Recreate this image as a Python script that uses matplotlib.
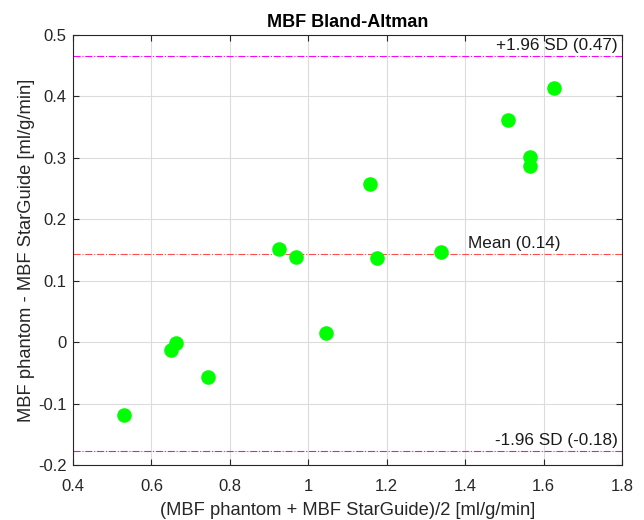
import matplotlib
matplotlib.use("Agg")
import matplotlib.pyplot as plt

plt.rcParams['font.family'] = ['Liberation Sans', 'DejaVu Sans']

mean_vals = [0.530, 0.650, 0.663, 0.744, 0.925, 0.969, 1.045, 1.158, 1.176, 1.339, 1.510, 1.566, 1.566, 1.627]
diff_vals = [-0.118, -0.013, -0.002, -0.056, 0.152, 0.138, 0.015, 0.258, 0.137, 0.147, 0.362, 0.301, 0.286, 0.414]
bias = 0.144
upper_loa = 0.466
lower_loa = -0.178
labels = ['+1.96 SD (0.47)', 'Mean (0.14)', '-1.96 SD (-0.18)']

fig = plt.figure(figsize=(6.44, 5.20), dpi=100)
ax = fig.add_axes([0.1134, 0.1058, 0.8524, 0.8269])

ax.plot(mean_vals, diff_vals, 'o', color=(0, 1, 0), markersize=10.5, markeredgewidth=0, zorder=3)
ax.axhline(upper_loa, color='magenta', linestyle='-.', linewidth=0.8)
ax.axhline(bias, color=(1, 0.3, 0.3), linestyle='-.', linewidth=0.8)
ax.axhline(lower_loa, color='magenta', linestyle='-.', linewidth=0.8)

tc = '#1a1a1a'
ax.text(1.79, upper_loa + 0.005, labels[0], ha='right', va='bottom', fontsize=12.3, color=tc)
ax.text(1.642, bias + 0.005, labels[1], ha='right', va='bottom', fontsize=12.3, color=tc)
ax.text(1.79, lower_loa + 0.005, labels[2], ha='right', va='bottom', fontsize=12.3, color=tc)

ax.set_xlim(0.4, 1.8)
ax.set_ylim(-0.2, 0.5)
ax.set_xticks([0.4, 0.6, 0.8, 1.0, 1.2, 1.4, 1.6, 1.8])
ax.set_xticklabels(['0.4', '0.6', '0.8', '1', '1.2', '1.4', '1.6', '1.8'])
ax.set_yticks([-0.2, -0.1, 0, 0.1, 0.2, 0.3, 0.4, 0.5])
ax.set_yticklabels(['-0.2', '-0.1', '0', '0.1', '0.2', '0.3', '0.4', '0.5'])
ax.grid(True, color='#dcdcdc', linewidth=0.8)
ax.set_axisbelow(True)
ax.tick_params(direction='in', top=True, right=True, labelsize=12, colors='#262626', length=4)
ax.tick_params(axis='y', pad=4.5)
ax.tick_params(axis='x', pad=10)
for s in ax.spines.values():
    s.set_color('#262626')
    s.set_linewidth(0.8)

ax.set_title('MBF Bland-Altman', fontsize=13, fontweight='bold', pad=6)
ax.set_xlabel('(MBF phantom + MBF StarGuide)/2 [ml/g/min]', fontsize=13.2, color='#262626', labelpad=6)
ax.set_ylabel('MBF phantom - MBF StarGuide [ml/g/min]', fontsize=13.2, color='#262626', labelpad=2)

fig.savefig('out.png', dpi=100)
